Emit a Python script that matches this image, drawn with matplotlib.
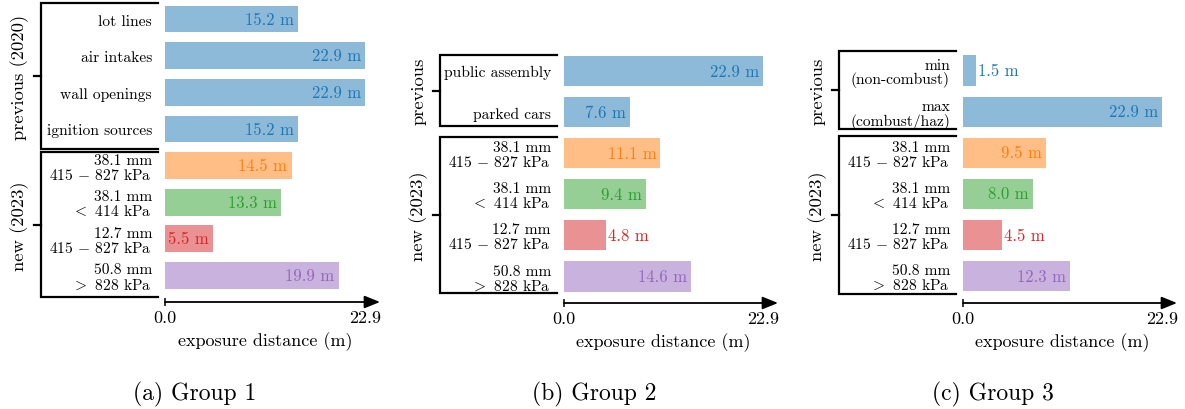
import matplotlib
matplotlib.use("Agg")
import matplotlib.pyplot as plt
from matplotlib.transforms import blended_transform_factory, ScaledTranslation

plt.rcParams.update({
    "font.family": "cmr10",
    "mathtext.fontset": "cm",
    "axes.formatter.use_mathtext": True,
    "axes.unicode_minus": False,
})

# ---- data -------------------------------------------------------------
new_labels = ["38.1 mm\n415 $-$ 827 kPa", "38.1 mm\n$<$ 414 kPa",
              "12.7 mm\n415 $-$ 827 kPa", "50.8 mm\n$>$ 828 kPa"]

g1_prev_labels = ["lot lines", "air intakes", "wall openings", "ignition sources"]
g1_prev_values = [15.2, 22.9, 22.9, 15.2]
g1_new_values = [14.5, 13.3, 5.5, 19.9]

g2_prev_labels = ["public assembly", "parked cars"]
g2_prev_values = [22.9, 7.6]
g2_new_values = [11.1, 9.4, 4.8, 14.6]

g3_prev_labels = ["min\n(non-combust)", "max\n(combust/haz)"]
g3_prev_values = [1.5, 22.9]
g3_new_values = [9.5, 8.0, 4.5, 12.3]

x_max = 22.9
x_tick_labels = ["0.0", "22.9"]
group_names = [("previous (2020)", "new (2023)"),
               ("previous", "new (2023)"),
               ("previous", "new (2023)")]
captions = ["(a) Group 1", "(b) Group 2", "(c) Group 3"]

prev_color = "tab:blue"
new_colors = ["tab:orange", "tab:green", "tab:red", "tab:purple"]

# ---- layout -------------------------------------------------------------
FIG_W, FIG_H = 1185, 410
DPI = 100
fig = plt.figure(figsize=(FIG_W / DPI, FIG_H / DPI), dpi=DPI)

# left px, width px, first bar centre px, bar pitch px, axis line px
panels = [
    dict(left=165, width=200, c0=20.0, pitch=36.64, axis=303.0,
         spans=[(-0.43, 3.55), (3.64, 7.6)]),
    dict(left=564, width=199, c0=72.0, pitch=41.1, axis=304.0,
         spans=[(-0.39, 1.34), (1.6, 5.4)]),
    dict(left=963, width=199, c0=71.5, pitch=41.1, axis=304.0,
         spans=[(-0.47, 1.43), (1.6, 5.43)]),
]
caption_x = [195, 594, 993]

data = [
    (g1_prev_labels, g1_prev_values, g1_new_values),
    (g2_prev_labels, g2_prev_values, g2_new_values),
    (g3_prev_labels, g3_prev_values, g3_new_values),
]

LABEL_FS = 11.2
VALUE_FS = 12.0
AXIS_FS = 13.0
GROUP_FS = 13.4
CAPTION_FS = 17.0
LINE_PITCH = 15.0      # px between baselines of stacked label lines
SINGLE_BASE = 5.5      # px from bar centre down to baseline of one-line label


def px(v):
    return v / DPI


for k, (lay, (plabels, pvals, nvals)) in enumerate(zip(panels, data)):
    labels = plabels + new_labels
    values = pvals + nvals
    colors = [prev_color] * len(pvals) + new_colors
    n = len(values)

    y_axis = (lay["axis"] - lay["c0"]) / lay["pitch"]
    top_px = lay["c0"] - 0.5 * lay["pitch"]
    ax = fig.add_axes([lay["left"] / FIG_W, 1 - lay["axis"] / FIG_H,
                       lay["width"] / FIG_W, (lay["axis"] - top_px) / FIG_H])
    ypos = list(range(n))
    ax.barh(ypos, values, height=0.73, color=colors, alpha=0.5, linewidth=0)

    for yi, v, c in zip(ypos, values, colors):
        if v > 5:
            ax.annotate(f"{v:.1f} m", (v, yi), xytext=(-3, 0),
                        textcoords="offset points", ha="right", va="center",
                        color=c, fontsize=VALUE_FS)
        else:
            ax.annotate(f"{v:.1f} m", (v, yi), xytext=(1.5, 0),
                        textcoords="offset points", ha="left", va="center",
                        color=c, fontsize=VALUE_FS)

    ax.set_xlim(0, x_max)
    ax.set_ylim(y_axis, -0.5)
    ax.set_yticks([])
    ax.set_xticks([0, x_max], x_tick_labels, fontsize=AXIS_FS)
    ax.tick_params(axis="x", direction="inout", length=6, width=1.1, pad=2.5)
    for sp in ax.spines.values():
        sp.set_visible(False)
    ax.set_xlabel("exposure distance (m)", fontsize=AXIS_FS, labelpad=4.5)

    tr = blended_transform_factory(ax.transAxes, ax.transData)
    w = lay["width"]

    # category labels, each line placed on its own baseline
    for yi, lab in zip(ypos, labels):
        lines = lab.split("\n")
        first = SINGLE_BASE - 0.5 * LINE_PITCH * (len(lines) - 1)
        for j, line in enumerate(lines):
            off = ScaledTranslation(0, -px(first + j * LINE_PITCH),
                                    fig.dpi_scale_trans)
            ax.text(-13 / w, yi, line, transform=tr + off, ha="right",
                    va="baseline", fontsize=LABEL_FS)

    # axis line with arrow head
    tip = x_max * (1 + 15 / w)
    ax.annotate("", xy=(tip, y_axis), xytext=(0, y_axis),
                xycoords="data", textcoords="data", annotation_clip=False,
                arrowprops=dict(arrowstyle="-|>,head_length=0.47,head_width=0.19",
                                mutation_scale=20, lw=1.3, color="black",
                                shrinkA=0, shrinkB=0))

    # group brackets
    xv = -124 / w
    xh = -7 / w
    xt = -131 / w
    for (y0, y1), name in zip(lay["spans"], group_names[k]):
        ax.plot([xh, xv, xv, xh], [y0, y0, y1, y1], transform=tr,
                color="black", lw=1.6, clip_on=False, solid_joinstyle="miter")
        ym = 0.5 * (y0 + y1)
        ax.plot([xt, xv], [ym, ym], transform=tr, color="black", lw=1.6,
                clip_on=False)
        ax.text(-145 / w, ym, name, transform=tr, rotation=90,
                ha="center", va="center", fontsize=GROUP_FS)

    fig.text(caption_x[k] / FIG_W, 1 - 394 / FIG_H, captions[k],
             ha="center", va="center", fontsize=CAPTION_FS)

fig.savefig("out.png", dpi=DPI)
